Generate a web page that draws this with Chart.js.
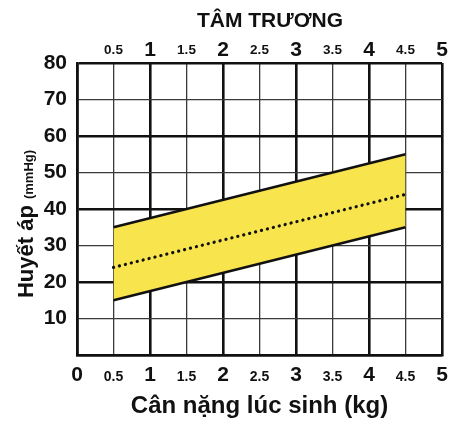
<!DOCTYPE html>
<html>
<head>
<meta charset="utf-8">
<script src="https://cdn.jsdelivr.net/npm/chart.js@4.4.1/dist/chart.umd.min.js"></script>
<style>
  html, body { margin: 0; padding: 0; background: #fff; }
  #wrap { width: 449px; height: 421px; }
</style>
</head>
<body>
<div id="wrap"><canvas id="bpChart" width="449" height="421"></canvas></div>
<script>
// birth weight (kg) and diastolic pressure band (mmHg)
var weights = [0.5, 4.5];
var upperBP = [35, 55];
var meanBP = [24, 44];
var lowerBP = [15, 35];

var xTickValues = [0, 0.5, 1, 1.5, 2, 2.5, 3, 3.5, 4, 4.5, 5];
var yTickValues = [0, 10, 20, 30, 40, 50, 60, 70, 80];

var FONT = '"Liberation Sans", Arial, sans-serif';
var INK = '#111';

function points(ys) {
    return weights.map(function(w, i) { return { x: w, y: ys[i] }; });
}
function isWhole(v) { return Math.abs(v - Math.round(v)) < 1e-6; }

// axis titles that need mixed sizes / custom placement
var titlesPlugin = {
    id: 'titles',
    afterDraw: function(chart) {
        var c = chart.ctx;
        c.save();
        c.fillStyle = INK;
        c.textBaseline = 'alphabetic';
        // top title
        c.font = 'bold 21px ' + FONT;
        c.textAlign = 'center';
        c.fillText('TÂM TRƯƠNG', 270, 27);
        // y title, rotated
        var big = 'bold 22px ' + FONT, small = 'bold 13px ' + FONT;
        c.font = big; var w1 = c.measureText('Huyết áp ').width;
        c.font = small; var w2 = c.measureText('(mmHg)').width;
        c.translate(33, 224);
        c.rotate(-Math.PI / 2);
        c.textAlign = 'left';
        var x0 = -(w1 + w2) / 2;
        c.font = big; c.fillText('Huyết áp ', x0, 0);
        c.font = small; c.fillText('(mmHg)', x0 + w1, 0);
        c.restore();
    }
};

new Chart(document.getElementById('bpChart'), {
    type: 'line',
    data: {
        datasets: [{
            label: 'upper',
            data: points(upperBP),
            borderColor: INK,
            borderWidth: 2.6,
            pointRadius: 0,
            backgroundColor: '#f8e44c',
            fill: 2
        }, {
            label: 'mean',
            data: points(meanBP),
            borderColor: INK,
            borderWidth: 3.2,
            borderDash: [0.1, 6],
            borderCapStyle: 'round',
            pointRadius: 0,
            fill: false
        }, {
            label: 'lower',
            data: points(lowerBP),
            borderColor: INK,
            borderWidth: 2.6,
            pointRadius: 0,
            fill: false
        }]
    },
    options: {
        responsive: false,
        animation: false,
        layout: { padding: { left: 0, right: 7, top: 0, bottom: 0 } },
        plugins: {
            legend: { display: false },
            tooltip: { enabled: false },
            filler: { drawTime: 'beforeDatasetsDraw' }
        },
        scales: {
            x: {
                type: 'linear', position: 'bottom', min: 0, max: 5,
                afterBuildTicks: function(s) { s.ticks = xTickValues.map(function(v) { return { value: v }; }); },
                afterFit: function(s) { s.height = 66; s.paddingLeft = 0; s.paddingRight = 0; },
                grid: {
                    drawTicks: false,
                    color: function(ctx) { return isWhole(ctx.tick.value) ? INK : '#3a3a3a'; },
                    lineWidth: function(ctx) { return isWhole(ctx.tick.value) ? 2.6 : 1.3; }
                },
                border: { color: INK, width: 2.6 },
                ticks: {
                    padding: 4, maxRotation: 0, autoSkip: false, color: INK,
                    callback: function(v) { return String(v); },
                    font: function(ctx) {
                        var whole = ctx.tick && isWhole(ctx.tick.value);
                        return whole ? { family: FONT, size: 21, weight: 'bold', lineHeight: '33px' }
                                     : { family: FONT, size: 14, weight: 'bold', lineHeight: '37px' };
                    }
                },
                title: {
                    display: true, text: 'Cân nặng lúc sinh (kg)', color: INK,
                    font: { family: FONT, size: 24, weight: 'bold', lineHeight: 1.2 },
                    padding: { top: 0, bottom: 0 }
                }
            },
            xTop: {
                type: 'linear', position: 'top', min: 0, max: 5,
                afterBuildTicks: function(s) { s.ticks = xTickValues.map(function(v) { return { value: v }; }); },
                afterFit: function(s) { s.height = 63; s.paddingLeft = 0; s.paddingRight = 0; },
                grid: { display: false, drawTicks: false },
                border: { display: false },
                ticks: {
                    padding: 3, maxRotation: 0, autoSkip: false, color: INK,
                    callback: function(v) { return v === 0 ? '' : String(v); },
                    font: function(ctx) {
                        var whole = ctx.tick && isWhole(ctx.tick.value);
                        return whole ? { family: FONT, size: 21, weight: 'bold', lineHeight: '20px' }
                                     : { family: FONT, size: 13.5, weight: 'bold', lineHeight: '20px' };
                    }
                }
            },
            y: {
                type: 'linear', position: 'left', min: 0, max: 80,
                afterBuildTicks: function(s) { s.ticks = yTickValues.map(function(v) { return { value: v }; }); },
                afterFit: function(s) { s.width = 77; s.paddingTop = 0; s.paddingBottom = 0; },
                grid: {
                    drawTicks: false,
                    color: function(ctx) { return ctx.tick.value % 20 === 0 ? INK : '#3a3a3a'; },
                    lineWidth: function(ctx) { return ctx.tick.value % 20 === 0 ? 2.6 : 1.3; }
                },
                border: { color: INK, width: 2.6 },
                ticks: {
                    padding: 10, autoSkip: false, color: INK,
                    callback: function(v) { return v === 0 ? '' : String(v); },
                    font: { family: FONT, size: 21, weight: 'bold' }
                }
            }
        }
    },
    plugins: [titlesPlugin]
});
</script>
</body>
</html>
